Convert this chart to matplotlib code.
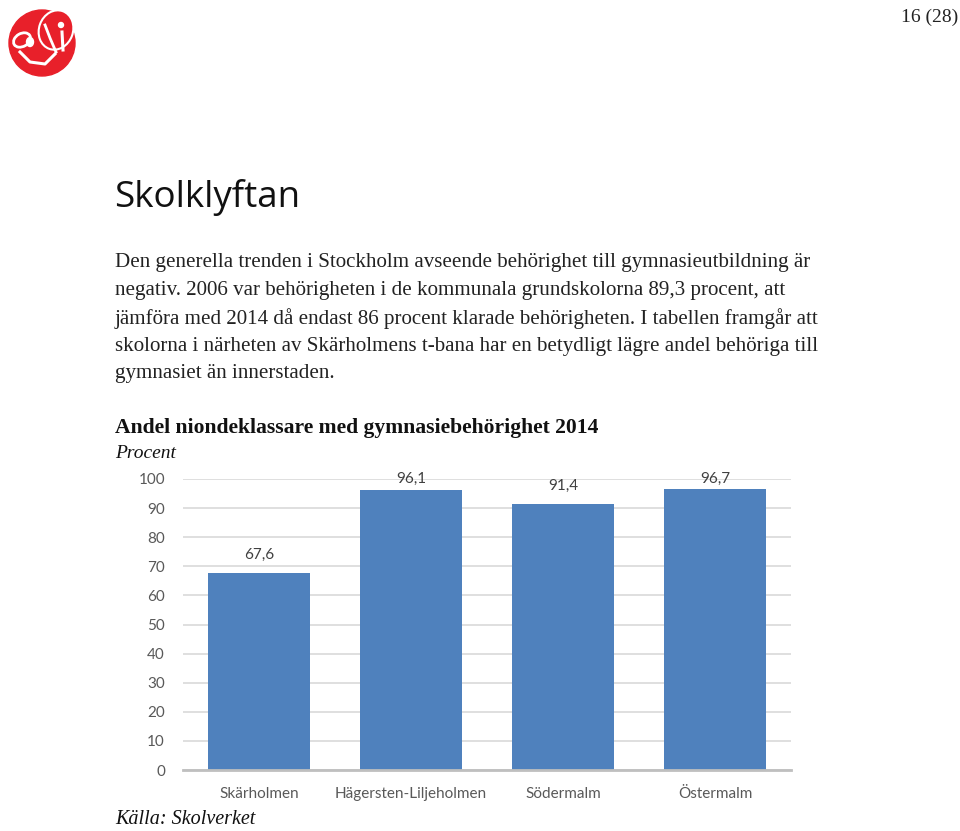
import numpy as np
import matplotlib
matplotlib.use("Agg")
import matplotlib.pyplot as plt
from matplotlib.patches import Circle, Ellipse

# data
districts = ["Skärholmen", "Hägersten-Liljeholmen", "Södermalm", "Östermalm"]
share = [67.6, 96.1, 91.4, 96.7]
labels = ["67,6", "96,1", "91,4", "96,7"]
yticks = [0, 10, 20, 30, 40, 50, 60, 70, 80, 90, 100]

paragraph = [
    "Den generella trenden i Stockholm avseende behörighet till gymnasieutbildning är",
    "negativ. 2006 var behörigheten i de kommunala grundskolorna 89,3 procent, att",
    "jämföra med 2014 då endast 86 procent klarade behörigheten. I tabellen framgår att",
    "skolorna i närheten av Skärholmens t-bana har en betydligt lägre andel behöriga till",
    "gymnasiet än innerstaden.",
]

W, H = 960, 831
fig = plt.figure(figsize=(W / 100, H / 100), dpi=100)


def px(x, y):
    return x / W, 1 - y / H


serif = "Liberation Serif"
chart_font = "Lato"
grey = "#595959"

# logo (rough rose)
logo = fig.add_axes([0, 1 - 85 / H, 85 / W, 85 / H])
logo.set_xlim(0, 85)
logo.set_ylim(85, 0)
logo.axis("off")
logo.add_patch(Circle((42, 42), 36, color="white", zorder=1))
logo.add_patch(Circle((42, 43), 33, color="#e8202a", zorder=2))
logo.add_patch(Ellipse((56, 30), 34, 40, angle=20, color="#e8202a", ec="white", lw=1.5, zorder=3))
logo.add_patch(Ellipse((22, 40), 18, 13, angle=-30, color="#e8202a", ec="white", lw=2, zorder=3))
logo.plot([20, 30, 45, 55], [52, 62, 64, 54], color="white", lw=2.2, zorder=4)
logo.plot([45, 50, 56], [25, 38, 52], color="white", lw=2, zorder=4)
logo.plot([62, 63], [32, 50], color="white", lw=2.2, zorder=4)
logo.add_patch(Circle((61, 25), 2.5, color="white", zorder=4))
logo.add_patch(Ellipse((30, 42), 7, 9, color="white", zorder=4))

fig.text(*px(958, 17), "16 (28)", fontsize=14, family=serif, ha="right", va="center", color="#222222")
fig.text(*px(114, 197), "Skolklyftan", fontsize=26.5, family="Open Sans", ha="left", va="center",
         color="#111111")

for i, line in enumerate(paragraph):
    fig.text(*px(115, 263 + i * 27.7), line, fontsize=15.1, family=serif, ha="left", va="center",
             color="#222222")

fig.text(*px(115, 428), "Andel niondeklassare med gymnasiebehörighet 2014", fontsize=15.6,
         family=serif, weight="bold", ha="left", va="center", color="#111111")
fig.text(*px(115, 454), "Procent", fontsize=14, family=serif, style="italic", ha="left",
         va="center", color="#111111")
fig.text(*px(115, 820), "Källa: Skolverket", fontsize=14.5, family=serif, style="italic", ha="left",
         va="center", color="#111111")

# chart
ax = fig.add_axes([183 / W, 61 / H, 608 / W, 291 / H])
x = np.arange(len(districts))
ax.bar(x, share, width=0.665, color="#4f81bd", zorder=3)
ax.set_xlim(-0.5, len(districts) - 0.5)
ax.set_ylim(0, 100)
ax.set_yticks(yticks)
ax.set_xticks(x)
ax.set_xticklabels(districts)
ax.yaxis.grid(True, color="#d9d9d9", lw=1.2, zorder=0)
ax.tick_params(length=0, labelsize=11, labelcolor=grey)
ax.tick_params(axis="y", pad=13)
ax.tick_params(axis="x", pad=12)
for lbl in ax.get_xticklabels() + ax.get_yticklabels():
    lbl.set_family(chart_font)
for side in ["top", "right", "left"]:
    ax.spines[side].set_visible(False)
ax.spines["bottom"].set_color("#bfbfbf")
ax.spines["bottom"].set_linewidth(2)
ax.spines["bottom"].set_zorder(4)

for xi, v, t in zip(x, share, labels):
    ax.text(xi, min(v + 6.2, 100), t, ha="center", va="center", fontsize=11,
            family=chart_font, color="#404040", clip_on=False, zorder=5)

fig.savefig("out.png", dpi=100)
